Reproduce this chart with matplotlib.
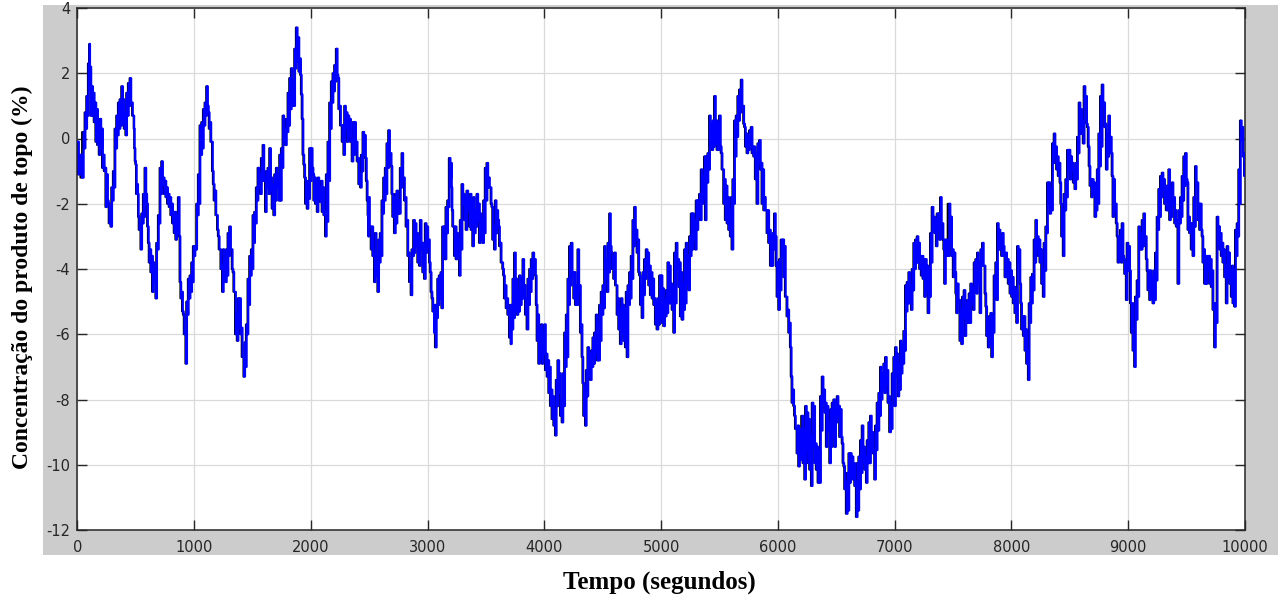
import numpy as np
import matplotlib
matplotlib.use("Agg")
import matplotlib.pyplot as plt
from matplotlib.patches import Rectangle

plt.rcParams["axes.unicode_minus"] = False

# ---------------- data ----------------
# Each reading: time (s), upper and lower extent of the noisy signal (%)
seg_a_t = [0, 26, 54, 69, 83, 97, 106, 111, 126, 140, 154, 169, 183, 197, 211, 226, 240, 254, 268, 283,
           297, 311, 325, 340, 354, 368, 383, 397, 411, 425, 440, 454, 468, 482, 491, 502, 514, 525, 540, 554,
           568, 582, 597, 611, 625, 639, 654, 668, 682, 697, 711, 725, 739, 754, 768, 782, 796, 811, 825, 839,
           853, 868, 882, 896, 911, 925, 939, 953, 968, 982, 996, 1010, 1025, 1039, 1053, 1068, 1082, 1096,
           1110, 1125, 1139, 1153, 1167, 1182, 1196, 1210, 1225, 1239, 1253]
seg_a_hi = [-0.1, -0.5, 0.2, 0.8, 1.3, 2.3, 2.9, 2.2, 1.6, 1.4, 1.1, 0.9, 0.5, 0.6, 0.3, -0.5, -0.9, -1.1, -2.0, -2.1,
            -1.5, -1.0, 0.3, 0.7, 1.1, 1.2, 1.6, 1.2, 0.8, 1.4, 1.7, 1.85, 1.1, 0.7, -0.3, -0.8, -1.4, -2.4, -2.6, -2.3,
            -1.7, -0.9, -2.0, -3.2, -3.4, -3.6, -3.8, -4.0, -3.2, -2.35, -0.9, -0.7, -1.2, -1.3, -1.5, -1.7, -1.8, -2.0, -2.25, -2.25,
            -2.35, -1.8, -4.4, -4.7, -5.4, -5.9, -5.0, -4.3, -4.2, -3.8, -3.3, -3.3, -2.0, -1.1, 0.4, 0.5, 0.9, 1.1,
            1.6, 0.8, 0.5, -0.1, -1.4, -1.6, -2.35, -3.0, -3.4, -3.9, -3.4]
seg_a_lo = [-1.1, -1.2, -0.3, 0.3, 0.7, 1.5, 2.2, 0.7, 0.7, 0.5, -0.1, -0.2, -0.5, -0.3, -0.9, -1.0, -2.1, -1.9, -2.6, -2.7,
            -1.9, -1.5, -0.3, 0.1, 0.3, 0.4, 0.5, 0.3, 0.1, 0.7, 1.0, 1.1, 0.7, 0.3, -0.7, -1.7, -1.7, -2.8, -3.4, -2.6,
            -2.4, -1.7, -2.7, -3.8, -4.1, -4.7, -4.4, -4.9, -3.4, -2.6, -1.7, -1.4, -1.7, -1.8, -2.0, -2.1, -2.35, -2.6, -2.9, -3.1,
            -2.9, -3.0, -4.9, -5.3, -6.0, -6.9, -5.4, -4.9, -4.7, -4.4, -3.6, -3.4, -2.35, -2.0, -0.5, -0.3, 0.4, 0.7,
            1.0, 0.3, -0.1, -1.0, -1.9, -2.35, -2.8, -3.4, -4.0, -4.7, -4.1]

seg_b_t = [1265, 1279, 1293, 1307, 1322, 1336, 1350, 1365, 1379, 1393, 1407, 1422, 1436, 1450, 1464, 1479, 1493, 1507,
           1521, 1536, 1550, 1564, 1579, 1593, 1607, 1621, 1636, 1650, 1664, 1678, 1693, 1707, 1721, 1736, 1750, 1764,
           1778, 1793, 1807, 1821, 1835, 1850, 1864, 1878, 1893, 1907, 1921, 1935, 1950, 1964, 1978, 1992, 2007, 2021,
           2035, 2050, 2064, 2078, 2092, 2107, 2121, 2135, 2149, 2164, 2178, 2192, 2206, 2221, 2235, 2249, 2264, 2278,
           2292, 2306, 2321, 2335, 2349, 2363, 2378, 2392, 2406, 2421, 2435, 2449, 2463, 2478, 2492]
seg_b_hi = [-3.6, -3.4, -2.9, -2.7, -3.4, -4.1, -4.7, -5.4, -4.9, -4.9, -5.8, -6.7, -6.25, -5.7, -4.3, -3.6, -3.4, -2.35,
            -2.25, -1.5, -0.9, -1.1, -0.6, -0.2, -1.2, -1.0, -0.9, -0.3, -1.2, -1.4, -1.1, -0.9, -1.1, -0.5, -0.3, 0.7,
            0.3, 0.6, 1.4, 1.85, 2.15, 1.75, 2.75, 3.4, 3.1, 2.45, 1.35, -0.5, -1.2, -1.3, -1.3, -0.3, -0.3, -1.1,
            -1.2, -1.3, -1.2, -1.5, -1.3, -1.5, -2.25, -1.1, -0.1, 1.1, 1.75, 2.0, 2.25, 2.75, 1.85, 1.0, 0.4, 0.4,
            1.0, 0.8, 0.7, 0.6, 0.0, 0.5, 0.5, -0.1, -0.6, -1.1, -0.5, 0.2, 0.1, -1.3, -2.35]
seg_b_lo = [-4.4, -4.2, -3.6, -3.4, -4.0, -4.7, -6.0, -6.2, -5.8, -6.0, -6.7, -7.3, -7.0, -6.0, -5.1, -4.2, -4.0, -3.2,
            -2.6, -1.9, -1.5, -1.7, -1.3, -1.3, -2.25, -1.5, -1.7, -1.6, -2.15, -2.35, -1.9, -1.5, -1.9, -1.9, -0.9, -0.1,
            -0.2, 0.2, 0.4, 0.9, 1.0, 1.0, 2.15, 2.35, 2.05, 1.95, 0.6, -0.8, -2.0, -2.15, -1.85, -1.3, -0.9, -1.9,
            -2.0, -2.25, -1.85, -1.95, -2.25, -2.35, -3.0, -2.55, -1.3, 0.3, 1.1, 1.45, 1.75, 1.95, 0.9, 0.4, -0.1, -0.5,
            0.3, -0.1, 0.1, -0.1, -0.7, -0.5, -0.3, -0.7, -1.4, -1.5, -1.0, -0.5, -0.6, -1.9, -3.0]

seg_c_t = [2497, 2512, 2526, 2540, 2554, 2569, 2583, 2597, 2612, 2626, 2640, 2654, 2669, 2683, 2697, 2711, 2726, 2740,
           2754, 2769, 2783, 2797, 2811, 2826, 2840, 2854, 2868, 2883, 2897, 2911, 2926, 2940, 2954, 2968, 2983, 2997,
           3011, 3025, 3040, 3054, 3062, 3077, 3088, 3102, 3117, 3131, 3145, 3160, 3174, 3188, 3202, 3211, 3225, 3239,
           3254, 3268, 3282, 3297, 3311, 3325, 3339, 3354, 3368, 3382, 3396, 3411, 3425, 3439, 3454, 3468, 3482, 3496,
           3511, 3525, 3539, 3553, 3568, 3582, 3596, 3611, 3625, 3639, 3653, 3668, 3682, 3696, 3710]
seg_c_hi = [-1.8, -2.7, -2.7, -3.5, -2.9, -3.6, -3.1, -2.9, -1.9, -1.2, -0.9, -0.15, 0.25, -0.45, -1.7, -1.8, -1.7, -1.6,
            -1.9, -0.9, -0.45, -1.2, -1.8, -2.5, -3.5, -3.9, -3.4, -2.5, -2.6, -2.9, -3.0, -2.5, -3.2, -3.2, -2.6, -2.7,
            -3.1, -4.1, -4.9, -5.3, -5.1, -5.1, -4.3, -4.2, -4.1, -2.7, -2.7, -2.1, -1.9, -0.6, -0.75, -2.2, -2.7, -2.7,
            -2.9, -3.1, -2.5, -1.4, -1.7, -1.8, -1.6, -1.8, -1.7, -1.9, -1.8, -2.2, -1.7, -2.0, -2.3, -2.5, -1.9, -0.9,
            -0.75, -1.2, -1.5, -2.1, -2.7, -1.9, -2.2, -2.7, -3.2, -3.8, -4.2, -4.5, -4.9, -5.3, -5.1]
seg_c_lo = [-2.7, -3.4, -3.6, -4.4, -4.2, -4.7, -3.8, -3.6, -2.3, -1.9, -1.7, -0.9, -0.75, -0.85, -2.4, -2.9, -2.6, -2.3,
            -2.3, -1.5, -1.3, -1.9, -2.7, -3.6, -4.4, -4.8, -3.6, -3.5, -3.3, -3.8, -3.9, -3.4, -4.1, -4.3, -3.5, -3.3,
            -3.8, -4.7, -5.3, -5.95, -6.4, -5.5, -5.1, -4.9, -5.2, -3.6, -3.7, -2.9, -2.1, -1.2, -1.5, -2.7, -3.6, -3.7,
            -3.6, -4.2, -3.4, -2.0, -2.5, -2.8, -2.2, -2.7, -2.8, -3.3, -2.9, -2.7, -2.5, -3.2, -3.1, -3.2, -2.9, -1.9,
            -1.5, -1.5, -2.0, -3.1, -3.4, -2.9, -2.5, -3.3, -3.8, -4.0, -4.9, -5.2, -5.4, -6.1, -6.3]

seg_d_t = [3719, 3733, 3747, 3762, 3776, 3790, 3805, 3819, 3833, 3847, 3862, 3876, 3890, 3904, 3919, 3933, 3947, 3961,
           3976, 3990, 4004, 4019, 4033, 4047, 4061, 4076, 4090, 4104, 4118, 4133, 4147, 4161, 4176, 4190, 4204, 4218,
           4233, 4247, 4261, 4275, 4290, 4304, 4318, 4332, 4347, 4361, 4375, 4390, 4404, 4418, 4432, 4447, 4461, 4475,
           4489, 4504, 4518, 4532, 4547, 4561, 4575, 4589, 4604, 4618, 4632, 4646, 4661, 4675, 4689, 4704, 4718, 4732,
           4746, 4761, 4775, 4789, 4803, 4818, 4832, 4846, 4860, 4875, 4889, 4903, 4918, 4932, 4946, 4960, 4975]
seg_d_hi = [-5.1, -4.3, -3.5, -4.3, -4.7, -4.2, -4.3, -3.7, -4.5, -4.9, -4.3, -4.0, -3.7, -3.5, -3.7, -5.1, -5.4, -5.8,
            -5.7, -5.95, -5.7, -6.6, -6.8, -7.0, -7.7, -7.9, -8.3, -7.4, -6.8, -7.2, -8.0, -7.2, -5.95, -5.4, -4.3, -3.3,
            -3.2, -4.1, -4.1, -4.5, -3.4, -4.5, -5.7, -7.5, -7.6, -7.1, -6.4, -6.6, -6.5, -6.1, -5.95, -5.4, -5.7, -5.1,
            -4.7, -4.5, -3.3, -3.7, -3.2, -2.3, -3.5, -3.6, -3.5, -4.5, -4.9, -5.2, -4.9, -5.1, -5.2, -4.7, -4.5, -4.1,
            -3.6, -2.5, -2.1, -2.8, -3.1, -4.2, -4.5, -4.1, -3.7, -3.4, -3.5, -3.9, -4.1, -4.3, -4.9, -5.0, -4.9]
seg_d_lo = [-5.85, -5.5, -5.3, -5.4, -5.3, -5.1, -4.9, -4.9, -5.4, -5.85, -5.1, -4.7, -4.3, -4.1, -4.2, -6.2, -6.9, -6.7,
            -6.9, -6.6, -7.1, -7.3, -7.8, -8.2, -8.6, -8.8, -9.1, -8.2, -7.8, -8.5, -8.7, -8.2, -7.0, -6.7, -5.1, -4.5,
            -4.2, -4.9, -5.1, -5.1, -4.7, -5.95, -6.7, -8.5, -8.8, -7.9, -7.3, -7.4, -7.0, -6.9, -6.6, -6.8, -6.8, -6.2,
            -5.4, -5.2, -4.3, -4.7, -4.1, -3.3, -4.0, -4.3, -4.5, -5.4, -5.85, -6.3, -5.95, -6.2, -6.4, -6.7, -5.1, -4.9,
            -4.3, -3.3, -3.1, -3.5, -4.1, -5.1, -5.5, -4.8, -4.3, -4.0, -4.5, -4.8, -4.9, -5.1, -5.7, -5.85, -5.7]

seg_e_t = [4989, 5003, 5017, 5032, 5046, 5060, 5074, 5089, 5103, 5117, 5132, 5146, 5160, 5174, 5189, 5203, 5217, 5231,
           5246, 5260, 5274, 5288, 5303, 5317, 5331, 5346, 5360, 5374, 5388, 5403, 5417, 5431, 5445, 5460, 5474, 5488,
           5502, 5517, 5531, 5545, 5560, 5574, 5588, 5602, 5617, 5631, 5645, 5659, 5674, 5688, 5702, 5717, 5731, 5745,
           5759, 5774, 5788, 5802, 5816, 5831, 5845, 5859, 5874, 5888, 5902, 5916, 5931, 5945, 5959, 5973, 5988, 6002,
           6016, 6030, 6045, 6059, 6073, 6088, 6102, 6116, 6130, 6145, 6159, 6173, 6187]
seg_e_hi = [-4.2, -4.2, -4.6, -4.95, -4.65, -3.8, -3.9, -4.45, -4.55, -3.5, -3.2, -3.7, -3.8, -4.1, -4.45, -3.4, -3.2, -3.6,
            -3.0, -2.3, -2.3, -2.5, -1.9, -1.9, -1.7, -0.95, -1.15, -0.55, -0.55, -0.45, 0.7, 0.45, 0.55, 1.3, 0.55, 0.45,
            0.7, -0.45, -0.95, -1.25, -1.45, -1.8, -2.2, -1.8, -1.25, 0.55, 0.7, 1.3, 1.5, 1.8, 1.0, 0.35, 0.15, 0.05,
            0.25, 0.35, -0.25, -0.25, -0.45, -0.15, -0.05, -0.75, -0.95, -1.8, -2.2, -2.2, -2.8, -3.0, -2.9, -2.3, -3.9, -3.8,
            -3.7, -3.1, -3.1, -3.3, -4.85, -5.25, -5.65, -7.3, -7.7, -8.5, -8.9, -8.8, -8.9]
seg_e_lo = [-5.45, -5.65, -5.75, -5.45, -5.35, -5.05, -5.05, -5.25, -5.95, -5.05, -4.0, -4.55, -5.45, -5.55, -5.25, -5.05, -4.45, -4.65,
            -3.6, -3.4, -3.1, -3.4, -2.8, -2.4, -2.5, -2.0, -1.8, -2.5, -1.35, -0.95, -0.25, -0.35, -0.25, -0.15, -0.35, -0.35,
            -0.25, -0.95, -2.0, -2.5, -2.6, -2.8, -3.0, -3.4, -2.0, -0.55, 0.05, 0.55, 0.8, 1.0, 0.45, -0.25, -0.45, -0.35,
            -0.25, -0.45, -0.55, -1.25, -2.0, -0.75, -0.95, -2.0, -2.2, -2.2, -2.9, -3.2, -3.9, -3.9, -3.4, -3.0, -4.85, -5.25,
            -4.65, -3.6, -4.25, -4.85, -5.45, -5.95, -6.4, -8.1, -8.2, -8.9, -9.65, -10.05, -9.85]

seg_f_t = [6210, 6225, 6239, 6253, 6267, 6282, 6296, 6310, 6324, 6339, 6353, 6367, 6382, 6396, 6410, 6424, 6439, 6453,
           6467, 6481, 6496, 6510, 6524, 6538, 6553, 6567, 6581, 6596, 6610, 6624, 6638, 6653, 6667, 6681, 6695, 6710,
           6724, 6738, 6753, 6767, 6781, 6795, 6810, 6824, 6838, 6852, 6867, 6881, 6895, 6910, 6924, 6938, 6952, 6967,
           6981, 6995, 7009, 7024, 7038, 7052, 7066, 7081, 7095, 7109, 7124, 7138, 7152, 7166, 7181, 7195, 7209, 7223,
           7238, 7252, 7266, 7281, 7295, 7309, 7323, 7338, 7352, 7366, 7380, 7395, 7409, 7423, 7437]
seg_f_hi = [-8.5, -8.9, -8.2, -8.4, -8.6, -9.1, -8.1, -8.2, -9.35, -9.45, -9.55, -7.9, -7.3, -7.7, -8.1, -8.2, -8.7, -8.3,
            -8.1, -8.0, -8.1, -7.9, -8.2, -8.3, -9.35, -10.05, -10.55, -10.25, -9.65, -9.65, -9.75, -9.95, -10.55, -9.95, -9.75, -9.25,
            -8.8, -9.45, -9.75, -9.25, -8.7, -8.5, -9.0, -9.55, -8.8, -8.1, -7.8, -7.0, -7.2, -6.9, -6.7, -7.1, -7.9, -8.1,
            -7.2, -6.7, -6.4, -6.6, -6.9, -6.2, -6.3, -5.9, -4.5, -4.4, -4.1, -4.5, -4.0, -3.2, -3.1, -3.0, -3.2, -3.6,
            -3.6, -3.7, -3.7, -3.9, -4.0, -2.9, -2.1, -2.4, -2.5, -2.3, -2.3, -1.8, -2.6, -3.4, -3.1]
seg_f_lo = [-9.95, -10.45, -9.55, -9.95, -10.15, -10.65, -9.45, -9.95, -10.15, -10.55, -10.55, -8.95, -8.1, -8.4, -9.45, -8.95, -9.95, -9.45,
            -9.15, -9.45, -8.7, -8.5, -9.15, -9.15, -9.95, -10.75, -11.5, -11.4, -10.55, -10.35, -10.45, -10.65, -11.6, -11.4, -10.75, -10.25,
            -9.95, -10.15, -10.55, -9.95, -9.95, -9.55, -9.65, -10.45, -9.55, -8.95, -8.5, -8.0, -7.7, -7.8, -7.5, -8.1, -9.0, -8.9,
            -7.8, -8.2, -7.3, -7.9, -7.7, -7.2, -6.9, -6.5, -5.3, -5.05, -5.05, -5.25, -4.65, -4.0, -3.8, -3.8, -4.0, -4.2,
            -4.3, -4.85, -4.65, -5.35, -4.85, -3.8, -2.8, -2.9, -3.3, -2.8, -3.1, -2.6, -3.1, -4.45, -3.6]

seg_g_t = [7469, 7483, 7497, 7512, 7526, 7540, 7554, 7569, 7583, 7597, 7612, 7626, 7640, 7654, 7669, 7683, 7697, 7711,
           7726, 7740, 7754, 7769, 7783, 7797, 7811, 7826, 7840, 7854, 7868, 7883, 7897, 7911, 7925, 7940, 7954, 7968,
           7983, 7997, 8011, 8025, 8040, 8054, 8068, 8082, 8097, 8111, 8125, 8140, 8154, 8168, 8182, 8197, 8211, 8225,
           8239, 8254, 8268, 8282, 8297, 8311, 8325, 8339, 8354, 8368, 8382, 8396, 8411, 8425, 8439, 8453, 8468, 8482,
           8496, 8511, 8525, 8539, 8553, 8568, 8582, 8596, 8610, 8625, 8639, 8653, 8668, 8682, 8696, 8710, 8725]
seg_g_hi = [-2.0, -2.4, -3.4, -3.5, -4.75, -4.45, -4.95, -5.25, -4.85, -4.65, -5.05, -4.95, -4.75, -4.45, -4.55, -3.8, -3.7, -3.5,
            -3.8, -3.4, -3.2, -3.9, -5.15, -5.55, -5.45, -5.35, -5.45, -4.2, -3.8, -2.6, -2.8, -3.0, -2.9, -3.6, -3.5, -3.7,
            -3.8, -4.05, -4.25, -4.55, -4.65, -3.3, -3.4, -5.05, -5.45, -5.45, -5.85, -6.5, -5.05, -4.25, -4.15, -3.1, -2.5, -3.0,
            -3.1, -3.4, -4.05, -3.2, -2.7, -1.35, -1.35, -1.55, -0.15, 0.15, -0.25, -0.55, -0.75, -2.0, -2.2, -1.7, -1.25, -0.35,
            -0.35, -0.55, -0.75, -0.95, -0.75, 0.05, 1.1, 0.9, 0.55, 1.6, 1.3, 0.35, -0.85, -1.25, -1.25, -1.35, -1.55]
seg_g_lo = [-3.2, -3.6, -4.25, -4.1, -5.35, -5.05, -6.2, -6.3, -5.45, -6.05, -5.65, -5.65, -5.65, -5.05, -5.25, -4.65, -4.75, -4.45,
            -5.35, -3.9, -3.9, -4.75, -6.05, -6.4, -6.3, -6.7, -5.95, -4.85, -4.95, -3.4, -3.4, -3.6, -3.3, -4.25, -4.25, -4.45,
            -4.75, -4.85, -5.05, -5.35, -5.65, -3.8, -4.45, -5.85, -6.05, -6.5, -6.9, -7.4, -5.65, -5.05, -4.65, -3.8, -3.4, -3.6,
            -3.8, -4.45, -4.85, -4.05, -2.9, -2.0, -2.3, -2.2, -0.75, -0.55, -0.95, -1.15, -1.35, -3.0, -3.6, -2.2, -1.8, -0.95,
            -1.25, -0.95, -1.35, -1.55, -1.25, -0.45, 0.15, 0.15, -0.15, 1.0, 0.45, -0.25, -1.45, -1.8, -1.7, -2.4, -2.2]

seg_h_t = [8736, 8751, 8765, 8779, 8793, 8808, 8822, 8836, 8850, 8865, 8879, 8893, 8908, 8922, 8936, 8950, 8965, 8979,
           8993, 9007, 9022, 9036, 9050, 9064, 9079, 9093, 9107, 9122, 9136, 9150, 9164, 9179, 9193, 9207, 9221, 9236,
           9250, 9264, 9279, 9293, 9307, 9321, 9336, 9350, 9364, 9378, 9393, 9407, 9421, 9436, 9450, 9464, 9478, 9493,
           9507, 9521, 9535, 9550, 9564, 9578, 9592, 9607, 9621, 9635, 9649, 9664, 9678, 9692, 9707, 9721, 9735, 9749,
           9764, 9778, 9792, 9806, 9821, 9835, 9849, 9863, 9878, 9892, 9906, 9921, 9935, 9949, 9963, 9978, 9992, 10000]
seg_h_hi = [-0.95, 0.15, 1.3, 1.65, 1.1, 0.45, 0.15, 0.7, 0.05, -1.15, -1.25, -2.0, -3.0, -3.0, -2.8, -2.6, -3.7, -3.8,
            -3.2, -3.3, -5.05, -5.05, -6.05, -4.85, -4.35, -2.7, -2.9, -2.5, -2.3, -3.0, -4.05, -4.05, -4.05, -4.25, -4.05, -3.5,
            -2.4, -1.55, -1.15, -1.05, -1.25, -1.45, -1.45, -0.95, -1.55, -1.35, -1.8, -2.2, -2.5, -2.2, -1.8, -1.15, -0.55, -0.45,
            -1.35, -2.4, -2.6, -2.6, -1.8, -0.85, -1.35, -2.0, -2.0, -3.0, -3.4, -3.6, -3.6, -3.6, -3.7, -4.05, -5.05, -5.05,
            -2.4, -2.7, -2.9, -3.2, -3.4, -3.9, -3.3, -3.5, -4.05, -3.9, -4.05, -2.8, -2.6, -0.95, 0.55, 0.35, -0.45, -0.75]
seg_h_lo = [-2.0, -0.85, -0.25, 1.0, 0.35, -0.95, -0.55, -0.45, -0.45, -2.4, -2.2, -2.6, -3.8, -3.7, -3.8, -3.6, -4.15, -4.95,
            -4.05, -4.05, -5.95, -6.5, -7.0, -5.55, -4.85, -3.4, -3.4, -3.3, -3.2, -3.7, -4.65, -4.95, -4.75, -5.05, -4.95, -4.35,
            -2.8, -2.4, -1.8, -1.55, -2.0, -2.2, -2.2, -2.5, -2.4, -2.0, -2.6, -2.7, -4.45, -2.6, -2.4, -1.9, -1.45, -1.25,
            -2.8, -2.9, -3.4, -3.6, -2.7, -1.45, -2.5, -2.8, -2.8, -3.8, -4.45, -4.45, -4.05, -4.45, -4.55, -5.25, -6.4, -5.65,
            -3.2, -3.4, -3.6, -3.8, -4.25, -5.05, -4.25, -4.45, -4.85, -5.05, -5.15, -3.6, -3.0, -2.0, -0.05, -0.55, -1.15, -1.15]

x_ticks = [0, 1000, 2000, 3000, 4000, 5000, 6000, 7000, 8000, 9000, 10000]
y_ticks = [-12, -10, -8, -6, -4, -2, 0, 2, 4]
x_label = "Tempo (segundos)"
y_label = "Concentração do produto de topo (%)"

# ---------------- assemble ----------------
segments = [(seg_a_t, seg_a_hi, seg_a_lo), (seg_b_t, seg_b_hi, seg_b_lo), (seg_c_t, seg_c_hi, seg_c_lo),
            (seg_d_t, seg_d_hi, seg_d_lo), (seg_e_t, seg_e_hi, seg_e_lo), (seg_f_t, seg_f_hi, seg_f_lo),
            (seg_g_t, seg_g_hi, seg_g_lo), (seg_h_t, seg_h_hi, seg_h_lo)]
time_s, upper, lower = [], [], []
for t, h, l in segments:
    assert len(t) == len(h) == len(l), (len(t), len(h), len(l))
    time_s += t
    upper += h
    lower += l

xs, ys = [], []
n = len(time_s)
for i in range(n):
    t0 = time_s[i]
    t1 = time_s[i + 1] if i + 1 < n else t0 + 14.0
    xs += [t0, 0.5 * (t0 + t1)]
    ys += [upper[i], lower[i]]

# ---------------- figure ----------------
W, H = 1278, 600
fig = plt.figure(figsize=(W / 100, H / 100), dpi=100)
fig.patch.set_facecolor("white")
bg = Rectangle((43 / W, 1 - 555 / H), 1 - 43 / W, 550 / H,
               transform=fig.transFigure, facecolor="#cccccc", edgecolor="none", zorder=-10)
fig.patches.append(bg)

ax = fig.add_axes([77.3 / W, 1 - 530 / H, (1245 - 77.3) / W, 522 / H])
ax.set_zorder(5)
ax.set_facecolor("white")
# dark underlay (visible as small black ticks at the step ends) + blue signal
ax.plot(xs, ys, color="black", lw=1.3, drawstyle="steps-pre", zorder=2)
ax.plot(xs, ys, color="#0000ff", lw=1.6, drawstyle="steps-post", zorder=3)

ax.set_xlim(0, 10000)
ax.set_ylim(-12, 4)
ax.set_xticks(x_ticks)
ax.set_yticks(y_ticks)
ax.grid(True, color="#dadada", lw=0.9)
ax.set_axisbelow(True)
ax.tick_params(direction="in", length=7, width=1.0, top=True, right=True,
               labelsize=10.5, labelcolor="#262626", color="#262626", pad=5)
ax.tick_params(axis="x", pad=7)
for s in ax.spines.values():
    s.set_color("#262626")
    s.set_linewidth(1.1)

fig.text(659 / W, 1 - 582 / H, x_label, family="Liberation Serif", weight="bold",
         size=18, ha="center", va="center", color="black")
fig.text(22 / W, 1 - 277 / H, y_label, family="Liberation Serif", weight="bold",
         size=17, ha="center", va="center", rotation=90, color="black")

fig.savefig("out.png", dpi=100, facecolor="white")
